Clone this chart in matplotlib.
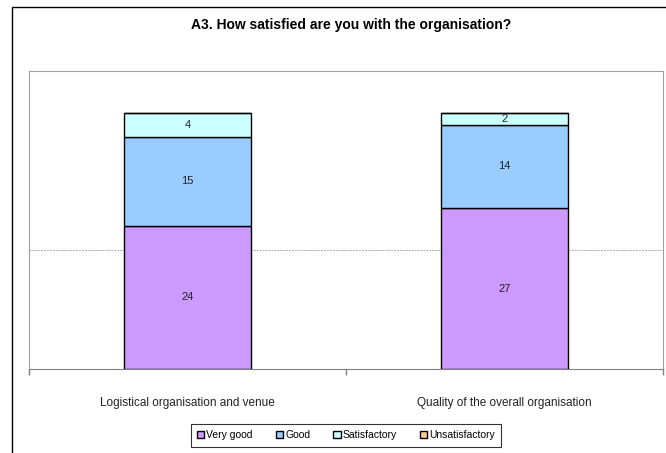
import numpy as np
import matplotlib.pyplot as plt
from matplotlib.patches import Rectangle

plt.rcParams['font.family'] = ['Liberation Sans', 'DejaVu Sans']

categories = ['Logistical organisation and venue', 'Quality of the overall organisation']
series = ['Very good', 'Good', 'Satisfactory', 'Unsatisfactory']
very_good = [24, 27]
good = [15, 14]
satisfactory = [4, 2]
unsatisfactory = [0, 0]
colors = ['#CC99FF', '#99CCFF', '#CCFFFF', '#FFCC99']

fig = plt.figure(figsize=(6.66, 4.53), dpi=100)
# outer chart border (cut off at right/bottom like the source)
fig.patches.append(Rectangle((12/666, -0.1), 1.0, 1 - 7/453 + 0.1, transform=fig.transFigure,
                             fill=False, edgecolor='black', lw=1.0))

ax = fig.add_axes([29/666, 84/453, 634/666, 298/453])
x = np.arange(len(categories))
bottom = np.zeros(len(categories))
for name, vals, c in zip(series, [very_good, good, satisfactory, unsatisfactory], colors):
    vals = np.array(vals, dtype=float)
    ax.bar(x, vals, 0.4, bottom=bottom, color=c, edgecolor='black', lw=1.0, label=name, zorder=3)
    for xi, b, v in zip(x, bottom, vals):
        if v > 0:
            ax.text(xi, b + v / 2, str(int(v)), ha='center', va='center', fontsize=8, color='#222222', zorder=4)
    bottom += vals

ax.set_xlim(-0.5, 1.5)
ax.set_ylim(0, 50)
ax.set_yticks([20])
ax.yaxis.grid(True, color='#aaaaaa', ls=(0, (2, 1)), lw=0.7)
ax.tick_params(axis='y', left=False, labelleft=False)
ax.set_xticks([-0.5, 0.5, 1.5])
ax.set_xticklabels([])
ax.tick_params(axis='x', length=4, color='#808080', width=1)
ax.set_xticks(x, minor=True)
ax.set_xticklabels(categories, minor=True, fontsize=8.5, color='#222222')
ax.tick_params(axis='x', which='minor', length=0, pad=20)
for s in ['left', 'top', 'right']:
    ax.spines[s].set_color('#a0a0a0')
ax.spines['bottom'].set_color('#808080')
ax.set_axisbelow(True)

fig.text(351/666, 1 - 25/453, 'A3. How satisfied are you with the organisation?',
         ha='center', va='center', fontsize=10, fontweight='bold')

leg = fig.legend(loc='upper center', bbox_to_anchor=(346/666, 1 - 419/453), ncol=4, fontsize=7.5,
                 frameon=True, fancybox=False, edgecolor='black', handlelength=0.7, handleheight=0.7,
                 handletextpad=0.2, columnspacing=2.2, borderpad=0.6)
leg.get_frame().set_linewidth(0.8)

fig.savefig('out.png', dpi=100)
